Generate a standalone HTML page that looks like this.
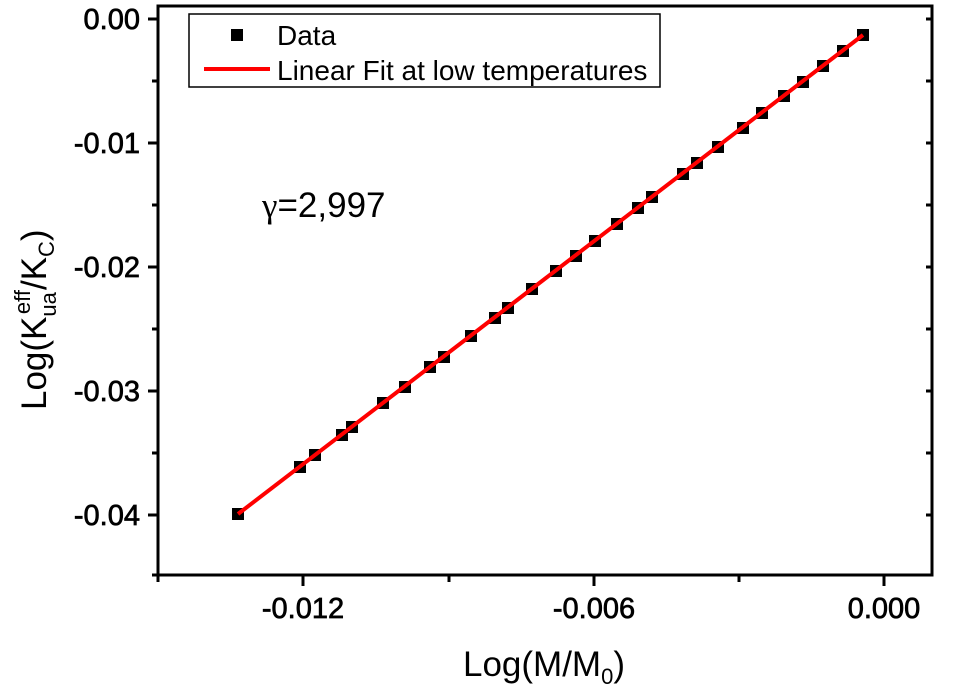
<!DOCTYPE html>
<html><head><meta charset="utf-8"><style>
html,body{margin:0;padding:0;background:#fff;}
svg{display:block;font-family:"Liberation Sans",Arial,sans-serif;}
</style></head><body>
<svg width="960" height="700" viewBox="0 0 960 700" xmlns="http://www.w3.org/2000/svg">
<g stroke="#000" stroke-width="3" fill="none">
<rect x="158" y="6" width="774" height="569"/>
<line x1="152" y1="575" x2="158" y2="575"/>
<line x1="148" y1="19" x2="158" y2="19"/>
<line x1="148" y1="143" x2="158" y2="143"/>
<line x1="148" y1="267" x2="158" y2="267"/>
<line x1="148" y1="391" x2="158" y2="391"/>
<line x1="148" y1="515" x2="158" y2="515"/>
<line x1="152" y1="81" x2="158" y2="81"/>
<line x1="152" y1="205" x2="158" y2="205"/>
<line x1="152" y1="329" x2="158" y2="329"/>
<line x1="152" y1="453" x2="158" y2="453"/>
<line x1="926" y1="19" x2="932" y2="19"/>
<line x1="926" y1="81" x2="932" y2="81"/>
<line x1="926" y1="143" x2="932" y2="143"/>
<line x1="926" y1="205" x2="932" y2="205"/>
<line x1="926" y1="267" x2="932" y2="267"/>
<line x1="926" y1="329" x2="932" y2="329"/>
<line x1="926" y1="391" x2="932" y2="391"/>
<line x1="926" y1="453" x2="932" y2="453"/>
<line x1="926" y1="515" x2="932" y2="515"/>
<line x1="158" y1="575" x2="158" y2="582"/>
<line x1="303" y1="575" x2="303" y2="586"/>
<line x1="449" y1="575" x2="449" y2="582"/>
<line x1="594" y1="575" x2="594" y2="586"/>
<line x1="739" y1="575" x2="739" y2="582"/>
<line x1="884" y1="575" x2="884" y2="586"/>
</g>
<g font-size="29" text-anchor="end" fill="#000" stroke="#000" stroke-width="0.7">
<text x="140" y="29">0.00</text>
<text x="140" y="153">-0.01</text>
<text x="140" y="277">-0.02</text>
<text x="140" y="401">-0.03</text>
<text x="140" y="525">-0.04</text>
</g>
<g font-size="29" text-anchor="middle" fill="#000" stroke="#000" stroke-width="0.7">
<text x="303" y="618">-0.012</text>
<text x="594" y="618">-0.006</text>
<text x="884" y="618">0.000</text>
</g>
<text x="463" y="676" font-size="35">Log(M/M<tspan font-size="22" dy="8">0</tspan><tspan dy="-8">)</tspan></text>
<text transform="translate(46,410) rotate(-90)" font-size="35">Log(K<tspan font-size="22" dy="10">ua</tspan><tspan font-size="22" dx="-22" dy="-26">eff</tspan><tspan dy="16">/K</tspan><tspan font-size="22" dy="8">C</tspan><tspan dy="-8">)</tspan></text>
<text x="262" y="217" font-size="35"><tspan font-family="Liberation Serif, serif">γ</tspan>=2,997</text>
<rect x="189" y="14" width="471" height="73" fill="#fff" stroke="#000" stroke-width="1.5"/>
<rect x="231" y="29" width="12" height="12" fill="#000"/>
<text x="277" y="45" font-size="28">Data</text>
<line x1="204" y1="69" x2="270" y2="69" stroke="#f00" stroke-width="4"/>
<text x="277" y="80" font-size="28">Linear Fit at low temperatures</text>
<g fill="#000">
<rect x="232" y="508" width="12" height="12"/>
<rect x="294" y="461" width="12" height="12"/>
<rect x="309" y="449" width="12" height="12"/>
<rect x="336" y="429" width="12" height="12"/>
<rect x="346" y="421" width="12" height="12"/>
<rect x="377" y="397" width="12" height="12"/>
<rect x="399" y="381" width="12" height="12"/>
<rect x="424" y="361" width="12" height="12"/>
<rect x="438" y="351" width="12" height="12"/>
<rect x="465" y="330" width="12" height="12"/>
<rect x="489" y="312" width="12" height="12"/>
<rect x="502" y="302" width="12" height="12"/>
<rect x="526" y="283" width="12" height="12"/>
<rect x="550" y="265" width="12" height="12"/>
<rect x="570" y="250" width="12" height="12"/>
<rect x="589" y="235" width="12" height="12"/>
<rect x="611" y="218" width="12" height="12"/>
<rect x="632" y="202" width="12" height="12"/>
<rect x="646" y="191" width="12" height="12"/>
<rect x="677" y="168" width="12" height="12"/>
<rect x="691" y="157" width="12" height="12"/>
<rect x="712" y="141" width="12" height="12"/>
<rect x="737" y="122" width="12" height="12"/>
<rect x="756" y="107" width="12" height="12"/>
<rect x="778" y="90" width="12" height="12"/>
<rect x="797" y="76" width="12" height="12"/>
<rect x="817" y="60" width="12" height="12"/>
<rect x="837" y="45" width="12" height="12"/>
<rect x="857" y="29" width="12" height="12"/>
</g>
<line x1="238" y1="514" x2="863" y2="35" stroke="#f00" stroke-width="4"/>
</svg>
</body></html>
